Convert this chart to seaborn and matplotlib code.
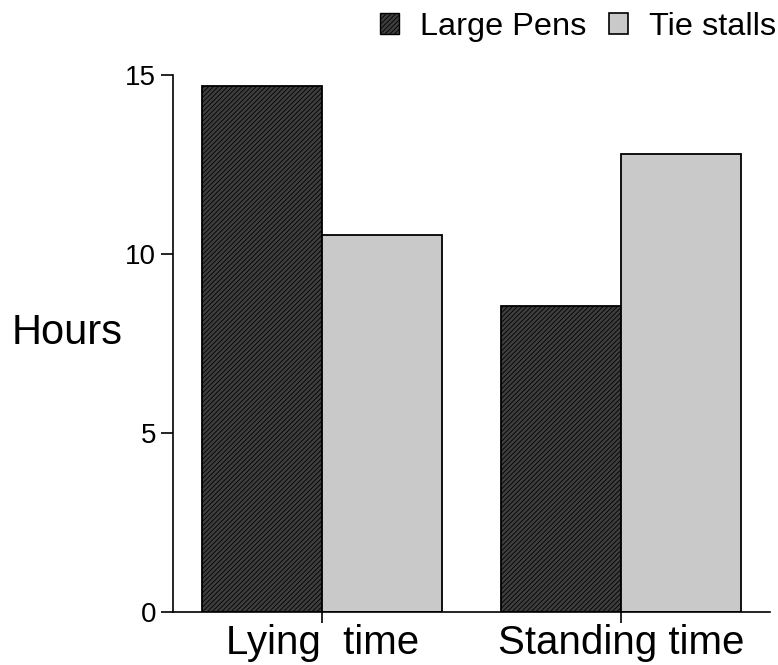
import matplotlib
matplotlib.use("Agg")
import matplotlib.pyplot as plt
import seaborn as sns
import pandas as pd
from matplotlib.patches import Patch

categories = ["Lying  time", "Standing time"]
series = ["Large Pens", "Tie stalls"]
large_pens = [14.7, 8.55]
tie_stalls = [10.52, 12.78]
yticks = [0, 5, 10, 15]

df = pd.DataFrame({
    "cat": categories * 2,
    "series": [series[0]] * 2 + [series[1]] * 2,
    "hours": large_pens + tie_stalls,
})

sns.set_style("white")
plt.rcParams['font.family'] = ['Liberation Sans', 'DejaVu Sans']
plt.rcParams['text.color'] = 'black'
plt.rcParams['axes.labelcolor'] = 'black'
plt.rcParams['hatch.color'] = '#9a9a9a'
plt.rcParams['hatch.linewidth'] = 0.6

fig = plt.figure(figsize=(7.78, 6.65), dpi=100)
ax = fig.add_axes([173/778, 1 - 612/665, (770 - 173)/778, (612 - 75)/665])

sns.barplot(data=df, x="cat", y="hours", hue="series", order=categories,
            hue_order=series, palette=["#3e3e3e", "#c9c9c9"], width=0.805,
            edgecolor="black", linewidth=1.3, saturation=1, ax=ax, legend=False)

for bar in ax.containers[0]:
    bar.set_hatch("///////")

ax.set_xlim(-0.5, 1.5)
ax.set_ylim(0, 15)
ax.set_yticks(yticks)
ax.set_yticklabels([str(t) for t in yticks])
for s in ["top", "right"]:
    ax.spines[s].set_visible(False)
for s in ["left", "bottom"]:
    ax.spines[s].set_color("black")
    ax.spines[s].set_linewidth(1.2)
ax.tick_params(axis="y", direction="out", length=9, width=1.2, labelsize=20, pad=3, left=True, colors="black")
ax.tick_params(axis="x", direction="out", length=8, width=1.2, labelsize=29, pad=1, bottom=True, colors="black")
ax.set_xlabel("")
ax.set_ylabel("Hours", rotation=0, fontsize=30, ha="center", va="center", color="black")
ax.yaxis.set_label_coords(-0.1776, 0.52)

handles = [Patch(facecolor="#3e3e3e", edgecolor="black", hatch="///////", linewidth=1),
           Patch(facecolor="#c9c9c9", edgecolor="black", linewidth=1.2)]
fig.legend(handles, series, loc="center right", bbox_to_anchor=(776/778, 1 - 27/665), ncol=2,
           frameon=False, fontsize=23.4, handlelength=0.58, handleheight=0.58,
           handletextpad=0.65, columnspacing=0.68, borderpad=0, borderaxespad=0,
           labelcolor="black")

fig.savefig("out.png", dpi=100)
